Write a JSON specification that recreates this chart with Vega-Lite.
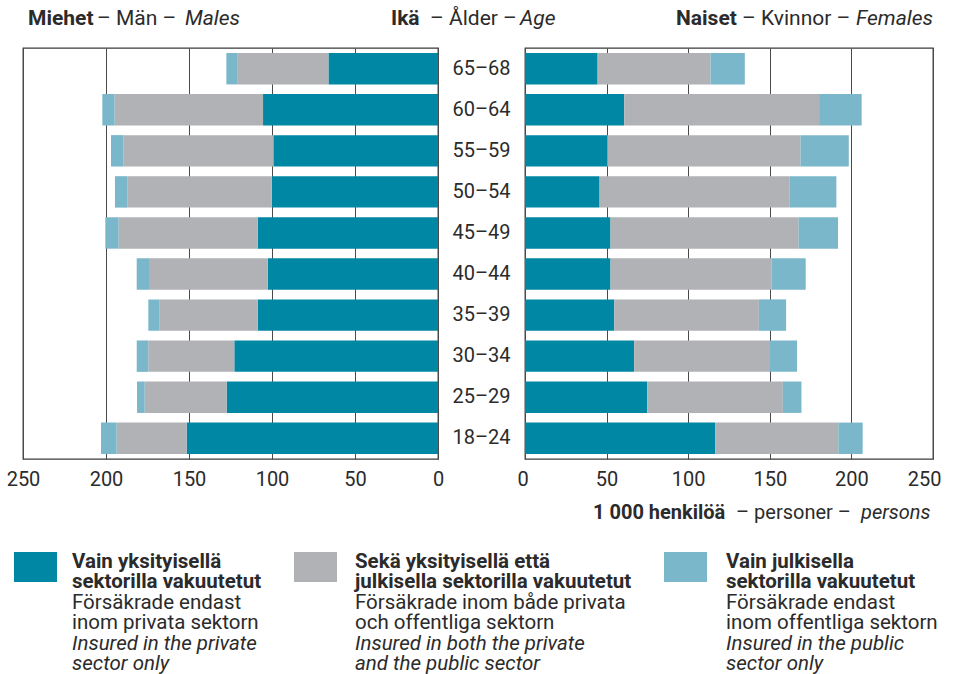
{
  "$schema": "https://vega.github.io/schema/vega-lite/v6.json",
  "padding": 0,
  "spacing": 0,
  "bounds": "full",
  "config": {
    "font": "Roboto",
    "view": {"stroke": null},
    "concat": {"spacing": 0},
    "text": {"color": "#2b2b2b"}
  },
  "datasets": {
    "pop": [
      {"sex": "M", "age": "65–68", "cat": "private", "value": 66.0},
      {"sex": "M", "age": "65–68", "cat": "private and public", "value": 55.0},
      {"sex": "M", "age": "65–68", "cat": "public", "value": 6.5},
      {"sex": "M", "age": "60–64", "cat": "private", "value": 105.4},
      {"sex": "M", "age": "60–64", "cat": "private and public", "value": 89.4},
      {"sex": "M", "age": "60–64", "cat": "public", "value": 7.4},
      {"sex": "M", "age": "55–59", "cat": "private", "value": 99.2},
      {"sex": "M", "age": "55–59", "cat": "private and public", "value": 90.2},
      {"sex": "M", "age": "55–59", "cat": "public", "value": 7.6},
      {"sex": "M", "age": "50–54", "cat": "private", "value": 100.2},
      {"sex": "M", "age": "50–54", "cat": "private and public", "value": 86.8},
      {"sex": "M", "age": "50–54", "cat": "public", "value": 7.6},
      {"sex": "M", "age": "45–49", "cat": "private", "value": 108.6},
      {"sex": "M", "age": "45–49", "cat": "private and public", "value": 83.8},
      {"sex": "M", "age": "45–49", "cat": "public", "value": 8.0},
      {"sex": "M", "age": "40–44", "cat": "private", "value": 102.6},
      {"sex": "M", "age": "40–44", "cat": "private and public", "value": 71.5},
      {"sex": "M", "age": "40–44", "cat": "public", "value": 7.4},
      {"sex": "M", "age": "35–39", "cat": "private", "value": 108.6},
      {"sex": "M", "age": "35–39", "cat": "private and public", "value": 59.1},
      {"sex": "M", "age": "35–39", "cat": "public", "value": 6.8},
      {"sex": "M", "age": "30–34", "cat": "private", "value": 122.7},
      {"sex": "M", "age": "30–34", "cat": "private and public", "value": 51.8},
      {"sex": "M", "age": "30–34", "cat": "public", "value": 7.0},
      {"sex": "M", "age": "25–29", "cat": "private", "value": 127.3},
      {"sex": "M", "age": "25–29", "cat": "private and public", "value": 49.4},
      {"sex": "M", "age": "25–29", "cat": "public", "value": 4.6},
      {"sex": "M", "age": "18–24", "cat": "private", "value": 151.4},
      {"sex": "M", "age": "18–24", "cat": "private and public", "value": 42.2},
      {"sex": "M", "age": "18–24", "cat": "public", "value": 9.4},
      {"sex": "F", "age": "65–68", "cat": "private", "value": 44.5},
      {"sex": "F", "age": "65–68", "cat": "private and public", "value": 69.2},
      {"sex": "F", "age": "65–68", "cat": "public", "value": 21.0},
      {"sex": "F", "age": "60–64", "cat": "private", "value": 60.8},
      {"sex": "F", "age": "60–64", "cat": "private and public", "value": 119.4},
      {"sex": "F", "age": "60–64", "cat": "public", "value": 26.1},
      {"sex": "F", "age": "55–59", "cat": "private", "value": 50.4},
      {"sex": "F", "age": "55–59", "cat": "private and public", "value": 118.4},
      {"sex": "F", "age": "55–59", "cat": "public", "value": 29.6},
      {"sex": "F", "age": "50–54", "cat": "private", "value": 45.7},
      {"sex": "F", "age": "50–54", "cat": "private and public", "value": 116.5},
      {"sex": "F", "age": "50–54", "cat": "public", "value": 28.6},
      {"sex": "F", "age": "45–49", "cat": "private", "value": 52.4},
      {"sex": "F", "age": "45–49", "cat": "private and public", "value": 115.2},
      {"sex": "F", "age": "45–49", "cat": "public", "value": 24.2},
      {"sex": "F", "age": "40–44", "cat": "private", "value": 52.4},
      {"sex": "F", "age": "40–44", "cat": "private and public", "value": 98.6},
      {"sex": "F", "age": "40–44", "cat": "public", "value": 21.0},
      {"sex": "F", "age": "35–39", "cat": "private", "value": 54.7},
      {"sex": "F", "age": "35–39", "cat": "private and public", "value": 88.6},
      {"sex": "F", "age": "35–39", "cat": "public", "value": 16.7},
      {"sex": "F", "age": "30–34", "cat": "private", "value": 66.9},
      {"sex": "F", "age": "30–34", "cat": "private and public", "value": 82.7},
      {"sex": "F", "age": "30–34", "cat": "public", "value": 17.1},
      {"sex": "F", "age": "25–29", "cat": "private", "value": 74.9},
      {"sex": "F", "age": "25–29", "cat": "private and public", "value": 83.1},
      {"sex": "F", "age": "25–29", "cat": "public", "value": 11.4},
      {"sex": "F", "age": "18–24", "cat": "private", "value": 116.5},
      {"sex": "F", "age": "18–24", "cat": "private and public", "value": 75.5},
      {"sex": "F", "age": "18–24", "cat": "public", "value": 14.9}
    ],
    "legend": [
      {"cat": "private", "lang": "fi", "label": "Vain yksityisellä\nsektorilla vakuutetut"},
      {"cat": "private", "lang": "sv", "label": "Försäkrade endast\ninom privata sektorn"},
      {"cat": "private", "lang": "en", "label": "Insured in the private\nsector only"},
      {"cat": "private and public", "lang": "fi", "label": "Sekä yksityisellä että\njulkisella sektorilla vakuutetut"},
      {"cat": "private and public", "lang": "sv", "label": "Försäkrade inom både privata\noch offentliga sektorn"},
      {"cat": "private and public", "lang": "en", "label": "Insured in both the private\nand the public sector"},
      {"cat": "public", "lang": "fi", "label": "Vain julkisella\nsektorilla vakuutetut"},
      {"cat": "public", "lang": "sv", "label": "Försäkrade endast\ninom offentliga sektorn"},
      {"cat": "public", "lang": "en", "label": "Insured in the public\nsector only"}
    ]
  },
  "vconcat": [
    {
      "spacing": 0,
      "bounds": "flush",
      "hconcat": [
        {"width": 28, "height": 1, "view": {"stroke": null}, "data": {"values": []}, "mark": "text", "encoding": {}},
        {"width": 69, "height": 47, "view": {"stroke": null}, "data": {"values": [{"t": "Miehet"}]},
         "mark": {"type": "text", "align": "left", "baseline": "alphabetic", "fontSize": 21, "fontWeight": "bold"},
         "encoding": {"text": {"field": "t", "type": "nominal"},
           "x": {"field": "t", "type": "nominal", "axis": null, "scale": {"type": "band", "paddingInner": 0, "paddingOuter": 0}, "bandPosition": 0},
           "y": {"field": "t", "type": "nominal", "axis": null, "scale": {"type": "band", "paddingInner": 0, "paddingOuter": 0}, "bandPosition": 0.532}}},
        {"width": 88, "height": 47, "view": {"stroke": null}, "data": {"values": [{"t": "– Män –"}]},
         "mark": {"type": "text", "align": "left", "baseline": "alphabetic", "fontSize": 21},
         "encoding": {"text": {"field": "t", "type": "nominal"},
           "x": {"field": "t", "type": "nominal", "axis": null, "scale": {"type": "band", "paddingInner": 0, "paddingOuter": 0}, "bandPosition": 0},
           "y": {"field": "t", "type": "nominal", "axis": null, "scale": {"type": "band", "paddingInner": 0, "paddingOuter": 0}, "bandPosition": 0.532}}},
        {"width": 206, "height": 47, "view": {"stroke": null}, "data": {"values": [{"t": "Males"}]},
         "mark": {"type": "text", "align": "left", "baseline": "alphabetic", "fontSize": 21, "fontStyle": "italic"},
         "encoding": {"text": {"field": "t", "type": "nominal"},
           "x": {"field": "t", "type": "nominal", "axis": null, "scale": {"type": "band", "paddingInner": 0, "paddingOuter": 0}, "bandPosition": 0},
           "y": {"field": "t", "type": "nominal", "axis": null, "scale": {"type": "band", "paddingInner": 0, "paddingOuter": 0}, "bandPosition": 0.532}}},
        {"width": 39, "height": 47, "view": {"stroke": null}, "data": {"values": [{"t": "Ikä"}]},
         "mark": {"type": "text", "align": "left", "baseline": "alphabetic", "fontSize": 21, "fontWeight": "bold"},
         "encoding": {"text": {"field": "t", "type": "nominal"},
           "x": {"field": "t", "type": "nominal", "axis": null, "scale": {"type": "band", "paddingInner": 0, "paddingOuter": 0}, "bandPosition": 0},
           "y": {"field": "t", "type": "nominal", "axis": null, "scale": {"type": "band", "paddingInner": 0, "paddingOuter": 0}, "bandPosition": 0.532}}},
        {"width": 90, "height": 47, "view": {"stroke": null}, "data": {"values": [{"t": "– Ålder –"}]},
         "mark": {"type": "text", "align": "left", "baseline": "alphabetic", "fontSize": 21},
         "encoding": {"text": {"field": "t", "type": "nominal"},
           "x": {"field": "t", "type": "nominal", "axis": null, "scale": {"type": "band", "paddingInner": 0, "paddingOuter": 0}, "bandPosition": 0},
           "y": {"field": "t", "type": "nominal", "axis": null, "scale": {"type": "band", "paddingInner": 0, "paddingOuter": 0}, "bandPosition": 0.532}}},
        {"width": 156, "height": 47, "view": {"stroke": null}, "data": {"values": [{"t": "Age"}]},
         "mark": {"type": "text", "align": "left", "baseline": "alphabetic", "fontSize": 21, "fontStyle": "italic"},
         "encoding": {"text": {"field": "t", "type": "nominal"},
           "x": {"field": "t", "type": "nominal", "axis": null, "scale": {"type": "band", "paddingInner": 0, "paddingOuter": 0}, "bandPosition": 0},
           "y": {"field": "t", "type": "nominal", "axis": null, "scale": {"type": "band", "paddingInner": 0, "paddingOuter": 0}, "bandPosition": 0.532}}},
        {"width": 66, "height": 47, "view": {"stroke": null}, "data": {"values": [{"t": "Naiset"}]},
         "mark": {"type": "text", "align": "left", "baseline": "alphabetic", "fontSize": 21, "fontWeight": "bold"},
         "encoding": {"text": {"field": "t", "type": "nominal"},
           "x": {"field": "t", "type": "nominal", "axis": null, "scale": {"type": "band", "paddingInner": 0, "paddingOuter": 0}, "bandPosition": 0},
           "y": {"field": "t", "type": "nominal", "axis": null, "scale": {"type": "band", "paddingInner": 0, "paddingOuter": 0}, "bandPosition": 0.532}}},
        {"width": 114, "height": 47, "view": {"stroke": null}, "data": {"values": [{"t": "– Kvinnor –"}]},
         "mark": {"type": "text", "align": "left", "baseline": "alphabetic", "fontSize": 21},
         "encoding": {"text": {"field": "t", "type": "nominal"},
           "x": {"field": "t", "type": "nominal", "axis": null, "scale": {"type": "band", "paddingInner": 0, "paddingOuter": 0}, "bandPosition": 0},
           "y": {"field": "t", "type": "nominal", "axis": null, "scale": {"type": "band", "paddingInner": 0, "paddingOuter": 0}, "bandPosition": 0.532}}},
        {"width": 77, "height": 47, "view": {"stroke": null}, "data": {"values": [{"t": "Females"}]},
         "mark": {"type": "text", "align": "left", "baseline": "alphabetic", "fontSize": 21, "fontStyle": "italic"},
         "encoding": {"text": {"field": "t", "type": "nominal"},
           "x": {"field": "t", "type": "nominal", "axis": null, "scale": {"type": "band", "paddingInner": 0, "paddingOuter": 0}, "bandPosition": 0},
           "y": {"field": "t", "type": "nominal", "axis": null, "scale": {"type": "band", "paddingInner": 0, "paddingOuter": 0}, "bandPosition": 0.532}}}
      ]
    },
    {
      "spacing": 0,
      "bounds": "flush",
      "hconcat": [
        {"width": 23, "height": 1, "view": {"stroke": null}, "data": {"values": []}, "mark": "text", "encoding": {}},
        {
          "width": 415, "height": 411,
          "view": {"stroke": "#3a3a3a", "strokeWidth": 1.3},
          "data": {"name": "pop"},
          "transform": [{"filter": "datum.sex == 'M'"}],
          "mark": {"type": "bar"},
          "encoding": {
            "y": {"field": "age", "type": "nominal", "axis": null,
                  "sort": ["65–68", "60–64", "55–59", "50–54", "45–49", "40–44", "35–39", "30–34", "25–29", "18–24"],
                  "scale": {"paddingInner": 0.235, "paddingOuter": 0.122}},
            "x": {"field": "value", "type": "quantitative", "stack": "zero",
                  "scale": {"domain": [0, 250], "reverse": true, "nice": false},
                  "axis": {"values": [0, 50, 100, 150, 200, 250], "grid": true, "gridColor": "#4a4a4a", "gridWidth": 1,
                           "ticks": false, "domain": false, "labelFontSize": 20, "labelColor": "#2b2b2b",
                           "labelPadding": 10, "labelFlush": false, "title": null}},
            "color": {"field": "cat", "type": "nominal",
                      "scale": {"domain": ["private", "private and public", "public"], "range": ["#0087a3", "#b1b2b6", "#7ab7ca"]},
                      "legend": null}
          }
        },
        {
          "width": 87, "height": 411,
          "view": {"stroke": null},
          "data": {"name": "pop"},
          "transform": [{"filter": "datum.sex == 'M' && datum.cat == 'private'"}],
          "mark": {"type": "text", "fontSize": 20},
          "encoding": {
            "y": {"field": "age", "type": "nominal", "axis": null,
                  "sort": ["65–68", "60–64", "55–59", "50–54", "45–49", "40–44", "35–39", "30–34", "25–29", "18–24"],
                  "scale": {"type": "band", "paddingInner": 0.235, "paddingOuter": 0.122}},
            "text": {"field": "age", "type": "nominal"}
          }
        },
        {
          "width": 408, "height": 411,
          "view": {"stroke": "#3a3a3a", "strokeWidth": 1.3},
          "data": {"name": "pop"},
          "transform": [{"filter": "datum.sex == 'F'"}],
          "mark": {"type": "bar"},
          "encoding": {
            "y": {"field": "age", "type": "nominal", "axis": null,
                  "sort": ["65–68", "60–64", "55–59", "50–54", "45–49", "40–44", "35–39", "30–34", "25–29", "18–24"],
                  "scale": {"paddingInner": 0.235, "paddingOuter": 0.122}},
            "x": {"field": "value", "type": "quantitative", "stack": "zero",
                  "scale": {"domain": [0, 250], "nice": false},
                  "axis": {"values": [0, 50, 100, 150, 200, 250], "grid": true, "gridColor": "#4a4a4a", "gridWidth": 1,
                           "ticks": false, "domain": false, "labelFontSize": 20, "labelColor": "#2b2b2b",
                           "labelPadding": 10, "labelFlush": true, "labelFlushOffset": 8, "title": null}},
            "color": {"field": "cat", "type": "nominal",
                      "scale": {"domain": ["private", "private and public", "public"], "range": ["#0087a3", "#b1b2b6", "#7ab7ca"]},
                      "legend": null}
          }
        }
      ]
    },
    {
      "spacing": 0,
      "bounds": "flush",
      "hconcat": [
        {"width": 593, "height": 1, "view": {"stroke": null}, "data": {"values": []}, "mark": "text", "encoding": {}},
        {"width": 143, "height": 62, "view": {"stroke": null}, "data": {"values": [{"t": "1 000 henkilöä"}]},
         "mark": {"type": "text", "align": "left", "baseline": "alphabetic", "fontSize": 20, "fontWeight": "bold"},
         "encoding": {"text": {"field": "t", "type": "nominal"},
           "x": {"field": "t", "type": "nominal", "axis": null, "scale": {"type": "band", "paddingInner": 0, "paddingOuter": 0}, "bandPosition": 0},
           "y": {"field": "t", "type": "nominal", "axis": null, "scale": {"type": "band", "paddingInner": 0, "paddingOuter": 0}, "bandPosition": 0.473}}},
        {"width": 125, "height": 62, "view": {"stroke": null}, "data": {"values": [{"t": "– personer –"}]},
         "mark": {"type": "text", "align": "left", "baseline": "alphabetic", "fontSize": 20},
         "encoding": {"text": {"field": "t", "type": "nominal"},
           "x": {"field": "t", "type": "nominal", "axis": null, "scale": {"type": "band", "paddingInner": 0, "paddingOuter": 0}, "bandPosition": 0},
           "y": {"field": "t", "type": "nominal", "axis": null, "scale": {"type": "band", "paddingInner": 0, "paddingOuter": 0}, "bandPosition": 0.473}}},
        {"width": 82, "height": 62, "view": {"stroke": null}, "data": {"values": [{"t": "persons"}]},
         "mark": {"type": "text", "align": "left", "baseline": "alphabetic", "fontSize": 20, "fontStyle": "italic"},
         "encoding": {"text": {"field": "t", "type": "nominal"},
           "x": {"field": "t", "type": "nominal", "axis": null, "scale": {"type": "band", "paddingInner": 0, "paddingOuter": 0}, "bandPosition": 0},
           "y": {"field": "t", "type": "nominal", "axis": null, "scale": {"type": "band", "paddingInner": 0, "paddingOuter": 0}, "bandPosition": 0.473}}}
      ]
    },
    {
      "spacing": 0,
      "bounds": "flush",
      "hconcat": [
        {"width": 14, "height": 1, "view": {"stroke": null}, "data": {"values": []}, "mark": "text", "encoding": {}},
        {"width": 43, "height": 30, "view": {"stroke": null}, "data": {"values": [{"cat": "private"}]}, "mark": "rect",
         "encoding": {"color": {"field": "cat", "type": "nominal", "scale": {"domain": ["private", "private and public", "public"], "range": ["#0087a3", "#b1b2b6", "#7ab7ca"]}, "legend": null}}},
        {"width": 15, "height": 1, "view": {"stroke": null}, "data": {"values": []}, "mark": "text", "encoding": {}},
        {"width": 222, "height": 81.6, "view": {"stroke": null},
         "data": {"name": "legend"},
         "transform": [{"filter": "datum.cat == 'private'"}],
         "encoding": {
           "x": {"field": "cat", "type": "nominal", "axis": null, "scale": {"type": "band", "paddingInner": 0, "paddingOuter": 0}, "bandPosition": 0},
           "y": {"field": "lang", "type": "nominal", "axis": null, "scale": {"type": "point", "padding": 0, "domain": ["fi", "sv", "en"]}},
           "text": {"field": "label", "type": "nominal"}
         },
         "layer": [
           {"transform": [{"filter": "datum.lang == 'fi'"}], "mark": {"type": "text", "align": "left", "baseline": "top", "fontSize": 20.5, "lineHeight": 20.4, "lineBreak": "\n", "fontWeight": "bold"}},
           {"transform": [{"filter": "datum.lang == 'sv'"}], "mark": {"type": "text", "align": "left", "baseline": "top", "fontSize": 20.5, "lineHeight": 20.4, "lineBreak": "\n"}},
           {"transform": [{"filter": "datum.lang == 'en'"}], "mark": {"type": "text", "align": "left", "baseline": "top", "fontSize": 20.5, "lineHeight": 20.4, "lineBreak": "\n", "fontStyle": "italic"}}
         ]},
        {"width": 43, "height": 30, "view": {"stroke": null}, "data": {"values": [{"cat": "private and public"}]}, "mark": "rect",
         "encoding": {"color": {"field": "cat", "type": "nominal", "scale": {"domain": ["private", "private and public", "public"], "range": ["#0087a3", "#b1b2b6", "#7ab7ca"]}, "legend": null}}},
        {"width": 18, "height": 1, "view": {"stroke": null}, "data": {"values": []}, "mark": "text", "encoding": {}},
        {"width": 309, "height": 81.6, "view": {"stroke": null},
         "data": {"name": "legend"},
         "transform": [{"filter": "datum.cat == 'private and public'"}],
         "encoding": {
           "x": {"field": "cat", "type": "nominal", "axis": null, "scale": {"type": "band", "paddingInner": 0, "paddingOuter": 0}, "bandPosition": 0},
           "y": {"field": "lang", "type": "nominal", "axis": null, "scale": {"type": "point", "padding": 0, "domain": ["fi", "sv", "en"]}},
           "text": {"field": "label", "type": "nominal"}
         },
         "layer": [
           {"transform": [{"filter": "datum.lang == 'fi'"}], "mark": {"type": "text", "align": "left", "baseline": "top", "fontSize": 20.5, "lineHeight": 20.4, "lineBreak": "\n", "fontWeight": "bold"}},
           {"transform": [{"filter": "datum.lang == 'sv'"}], "mark": {"type": "text", "align": "left", "baseline": "top", "fontSize": 20.5, "lineHeight": 20.4, "lineBreak": "\n"}},
           {"transform": [{"filter": "datum.lang == 'en'"}], "mark": {"type": "text", "align": "left", "baseline": "top", "fontSize": 20.5, "lineHeight": 20.4, "lineBreak": "\n", "fontStyle": "italic"}}
         ]},
        {"width": 43, "height": 30, "view": {"stroke": null}, "data": {"values": [{"cat": "public"}]}, "mark": "rect",
         "encoding": {"color": {"field": "cat", "type": "nominal", "scale": {"domain": ["private", "private and public", "public"], "range": ["#0087a3", "#b1b2b6", "#7ab7ca"]}, "legend": null}}},
        {"width": 19, "height": 1, "view": {"stroke": null}, "data": {"values": []}, "mark": "text", "encoding": {}},
        {"width": 200, "height": 81.6, "view": {"stroke": null},
         "data": {"name": "legend"},
         "transform": [{"filter": "datum.cat == 'public'"}],
         "encoding": {
           "x": {"field": "cat", "type": "nominal", "axis": null, "scale": {"type": "band", "paddingInner": 0, "paddingOuter": 0}, "bandPosition": 0},
           "y": {"field": "lang", "type": "nominal", "axis": null, "scale": {"type": "point", "padding": 0, "domain": ["fi", "sv", "en"]}},
           "text": {"field": "label", "type": "nominal"}
         },
         "layer": [
           {"transform": [{"filter": "datum.lang == 'fi'"}], "mark": {"type": "text", "align": "left", "baseline": "top", "fontSize": 20.5, "lineHeight": 20.4, "lineBreak": "\n", "fontWeight": "bold"}},
           {"transform": [{"filter": "datum.lang == 'sv'"}], "mark": {"type": "text", "align": "left", "baseline": "top", "fontSize": 20.5, "lineHeight": 20.4, "lineBreak": "\n"}},
           {"transform": [{"filter": "datum.lang == 'en'"}], "mark": {"type": "text", "align": "left", "baseline": "top", "fontSize": 20.5, "lineHeight": 20.4, "lineBreak": "\n", "fontStyle": "italic"}}
         ]}
      ]
    }
  ]
}
